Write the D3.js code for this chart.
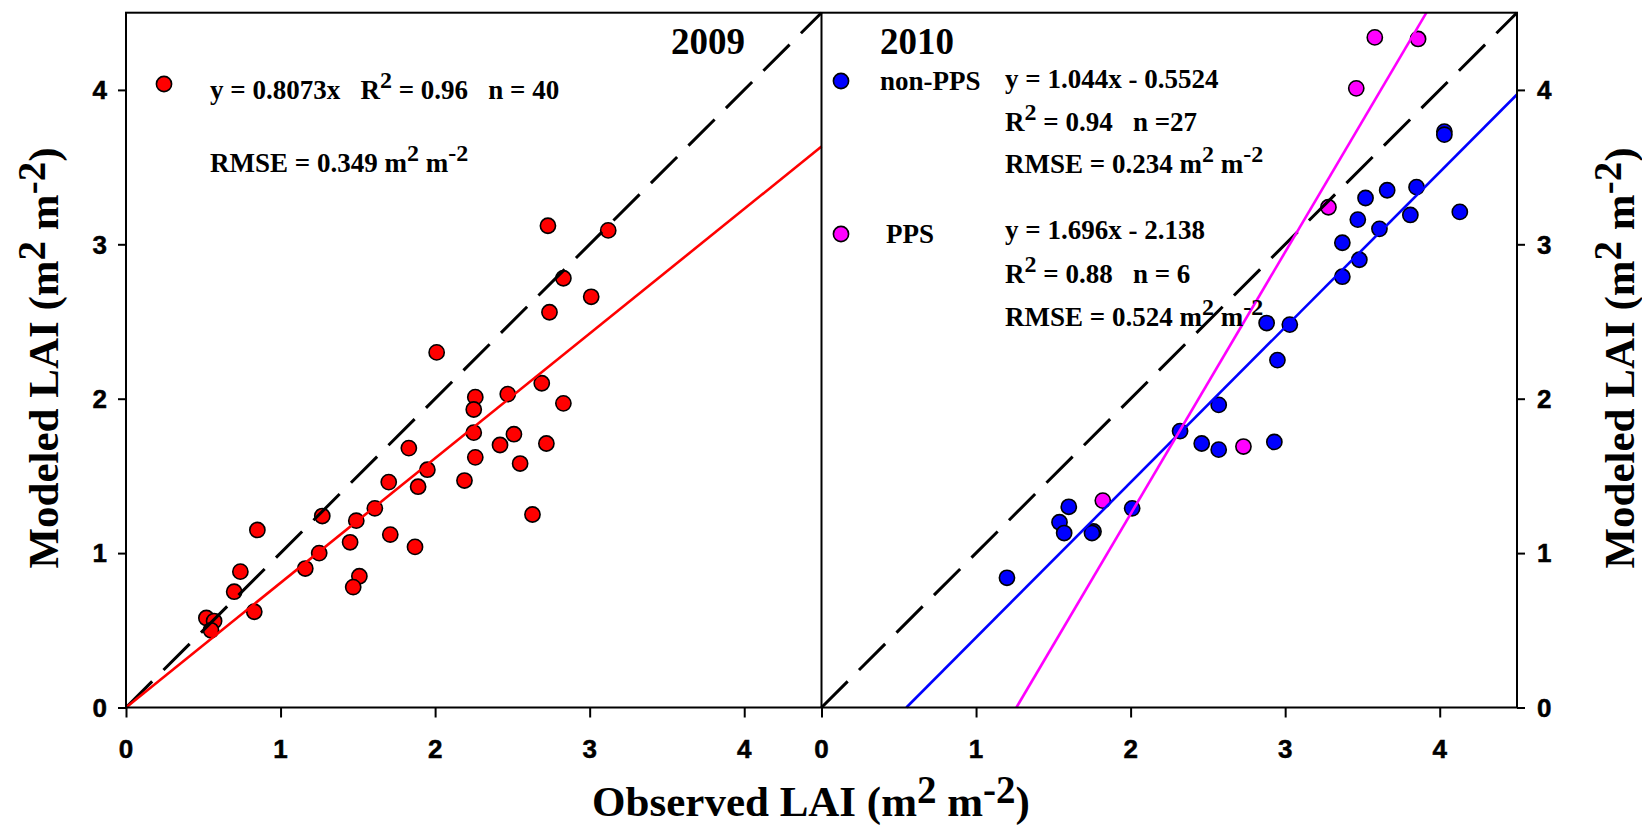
<!DOCTYPE html>
<html>
<head>
<meta charset="utf-8">
<script src="https://cdn.jsdelivr.net/npm/d3@7"></script>
<style>
  html, body { margin: 0; padding: 0; background: #fff; }
  svg { display: block; }
  text { white-space: pre; }
  .ticklab { font-family: "Liberation Sans", Arial, sans-serif; font-weight: 700; font-size: 26px; fill: #000; stroke: #000; stroke-width: 0.5px; }
</style>
</head>
<body>
<svg id="chart" width="1642" height="827"></svg>
<script>
// ---------------- data ----------------
const tickValues = [0, 1, 2, 3, 4];
const tickLabels = ["0", "1", "2", "3", "4"];

// 2009 (observed, modeled)
const obs2009 = [2.73, 3.12, 2.83, 3.01, 2.74, 2.01, 2.69, 2.26, 2.47, 2.83,
                 2.25, 2.25, 2.51, 2.42, 2.72, 1.83, 2.26, 1.95, 2.55, 1.70,
                 1.89, 2.19, 1.61, 1.27, 1.49, 0.85, 1.45, 1.71, 1.87, 1.25,
                 1.16, 0.74, 1.51, 0.70, 1.47, 0.83, 0.52, 0.57, 0.55, 2.63];
const mod2009 = [3.12, 3.09, 2.78, 2.66, 2.56, 2.30, 2.10, 2.01, 2.03, 1.97,
                 1.93, 1.78, 1.77, 1.70, 1.71, 1.68, 1.62, 1.54, 1.58, 1.46,
                 1.43, 1.47, 1.29, 1.24, 1.21, 1.15, 1.07, 1.12, 1.04, 1.00,
                 0.90, 0.88, 0.85, 0.75, 0.78, 0.62, 0.58, 0.56, 0.50, 1.25];

// 2010 non-PPS
const obsNonPPS = [4.03, 4.03, 3.66, 3.85, 3.52, 3.47, 3.81, 4.13, 3.61, 3.37,
                   3.48, 3.37, 2.88, 3.03, 2.95, 2.57, 2.32, 2.46, 2.57, 2.93,
                   2.01, 1.60, 1.54, 1.57, 1.76, 1.75, 1.20];
const modNonPPS = [3.73, 3.71, 3.35, 3.37, 3.30, 3.16, 3.19, 3.21, 3.10, 3.01,
                   2.90, 2.79, 2.49, 2.48, 2.25, 1.96, 1.79, 1.71, 1.67, 1.72,
                   1.29, 1.30, 1.20, 1.13, 1.14, 1.13, 0.84];

// 2010 PPS
const obsPPS = [3.58, 3.86, 3.46, 3.28, 1.82, 2.73];
const modPPS = [4.34, 4.33, 4.01, 3.24, 1.34, 1.69];

// fitted lines (end points as drawn)
const fit2009X = [0, 4.5],      fit2009Y = [0, 3.633];
const fitNonPPSX = [0.549, 4.5], fitNonPPSY = [0, 3.97];
const fitPPSX = [1.261, 3.914],  fitPPSY = [0, 4.5];
const oneToOne = [0, 4.5];

// ---------------- layout ----------------
const svg = d3.select("#chart");
const SERIF = "'Liberation Serif','Times New Roman',serif";

const yTop = 12.7, yBot = 707.5;
const leftX0 = 126, leftX1 = 821.5, rightX0 = 821.5, rightX1 = 1517;

const y = d3.scaleLinear().domain([0, 4.5]).range([yBot, yTop]);
const xL = d3.scaleLinear().domain([0, 4.5]).range([leftX0, leftX1]);
const xR = d3.scaleLinear().domain([0, 4.5]).range([rightX0, rightX1]);

// rich text helper: parts = [[text, isSup], ...]
function rich(g, x, yy, parts, size, supSize, raise, opts = {}) {
  const t = g.append("text")
    .attr("x", x).attr("y", yy)
    .style("font-family", SERIF).style("font-weight", "bold")
    .style("font-size", size + "px").attr("fill", "#000")
    .attr("xml:space", "preserve");
  if (opts.anchor) t.attr("text-anchor", opts.anchor);
  if (opts.transform) t.attr("transform", opts.transform);
  let up = false;
  parts.forEach(([s, sup]) => {
    const ts = t.append("tspan").text(s);
    if (sup) ts.style("font-size", supSize + "px");
    if (sup && !up) { ts.attr("dy", -raise); up = true; }
    else if (!sup && up) { ts.attr("dy", raise); up = false; }
  });
  return t;
}

// ---------------- marks ----------------
function panel(x, obsArr, modArr, color) {
  const g = svg.append("g");
  g.selectAll("circle").data(obsArr).join("circle")
    .attr("cx", (d) => x(d))
    .attr("cy", (d, i) => y(modArr[i]))
    .attr("r", 7.6)
    .attr("fill", color).attr("stroke", "#000").attr("stroke-width", 1.6);
}

function fitLine(x, xs, ys, color, dashed) {
  const line = d3.line().x((d) => x(d[0])).y((d) => y(d[1]));
  const p = svg.append("path")
    .datum(xs.map((v, i) => [v, ys[i]]))
    .attr("d", line).attr("fill", "none")
    .attr("stroke", color).attr("stroke-width", dashed ? 3 : 2.6);
  if (dashed) p.attr("stroke-dasharray", "37,16");
}

// points
panel(xL, obs2009, mod2009, "#ff0000");
panel(xR, obsNonPPS, modNonPPS, "#0000ff");
panel(xR, obsPPS, modPPS, "#ff00ff");

// lines
fitLine(xL, oneToOne, oneToOne, "#000", true);
fitLine(xL, fit2009X, fit2009Y, "#ff0000", false);
fitLine(xR, oneToOne, oneToOne, "#000", true);
fitLine(xR, fitNonPPSX, fitNonPPSY, "#0000ff", false);
fitLine(xR, fitPPSX, fitPPSY, "#ff00ff", false);

// ---------------- axes (tick marks from d3.axis, labels drawn explicitly) ----------------
const lineStyle = (g) => {
  g.selectAll(".domain").remove();
  g.selectAll(".tick text").remove();
  g.selectAll(".tick line").attr("stroke", "#000").attr("stroke-width", 2);
};

svg.append("g").attr("transform", `translate(0,${yBot})`)
  .call(d3.axisBottom(xL).tickValues(tickValues).tickSize(10)).call(lineStyle);
svg.append("g").attr("transform", `translate(0,${yBot})`)
  .call(d3.axisBottom(xR).tickValues(tickValues).tickSize(10)).call(lineStyle);
svg.append("g").attr("transform", `translate(${leftX0},0)`)
  .call(d3.axisLeft(y).tickValues(tickValues).tickSize(8)).call(lineStyle);
svg.append("g").attr("transform", `translate(${rightX1},0)`)
  .call(d3.axisRight(y).tickValues(tickValues).tickSize(8)).call(lineStyle);

const labels = svg.append("g");

[xL, xR].forEach((xs) => {
  labels.append("g").selectAll("text").data(tickValues).join("text")
    .attr("class", "ticklab")
    .attr("x", (d) => xs(d)).attr("y", 758)
    .attr("text-anchor", "middle")
    .text((d, i) => tickLabels[i]);
});
labels.append("g").selectAll("text").data(tickValues).join("text")
  .attr("class", "ticklab")
  .attr("x", leftX0 - 8 - 11).attr("y", (d) => y(d) + 9.3)
  .attr("text-anchor", "end")
  .text((d, i) => tickLabels[i]);
labels.append("g").selectAll("text").data(tickValues).join("text")
  .attr("class", "ticklab")
  .attr("x", rightX1 + 8 + 12).attr("y", (d) => y(d) + 9.3)
  .attr("text-anchor", "start")
  .text((d, i) => tickLabels[i]);

// frame
const frame = svg.append("g").attr("stroke", "#000").attr("stroke-width", 2).attr("fill", "none");
frame.append("rect").attr("x", leftX0).attr("y", yTop).attr("width", rightX1 - leftX0).attr("height", yBot - yTop);
frame.append("line").attr("x1", rightX0).attr("x2", rightX0).attr("y1", yTop).attr("y2", yBot);

// ---------------- annotations ----------------
const ann = svg.append("g");
const AS = 27, ASS = 24, AR = 11;

rich(ann, 671, 54, [["2009", false]], 37, 37, 0);
rich(ann, 880, 54, [["2010", false]], 37, 37, 0);

ann.append("circle").attr("cx", 164).attr("cy", 84).attr("r", 7.6)
  .attr("fill", "#ff0000").attr("stroke", "#000").attr("stroke-width", 1.6);
rich(ann, 210, 99, [["y = 0.8073x   R", false], ["2", true], [" = 0.96   n = 40", false]], AS, ASS, AR);
rich(ann, 210, 172, [["RMSE = 0.349 m", false], ["2", true], [" m", false], ["-2", true]], AS, ASS, AR);

ann.append("circle").attr("cx", 841).attr("cy", 81).attr("r", 7.6)
  .attr("fill", "#0000ff").attr("stroke", "#000").attr("stroke-width", 1.6);
rich(ann, 880, 90, [["non-PPS", false]], AS, ASS, AR);
rich(ann, 1005, 88, [["y = 1.044x - 0.5524", false]], AS, ASS, AR);
rich(ann, 1005, 131, [["R", false], ["2", true], [" = 0.94   n =27", false]], AS, ASS, AR);
rich(ann, 1005, 173, [["RMSE = 0.234 m", false], ["2", true], [" m", false], ["-2", true]], AS, ASS, AR);

ann.append("circle").attr("cx", 841).attr("cy", 234).attr("r", 7.6)
  .attr("fill", "#ff00ff").attr("stroke", "#000").attr("stroke-width", 1.6);
rich(ann, 886, 243, [["PPS", false]], AS, ASS, AR);
rich(ann, 1005, 239, [["y = 1.696x - 2.138", false]], AS, ASS, AR);
rich(ann, 1005, 283, [["R", false], ["2", true], [" = 0.88   n = 6", false]], AS, ASS, AR);
rich(ann, 1005, 326, [["RMSE = 0.524 m", false], ["2", true], [" m", false], ["-2", true]], AS, ASS, AR);

// ---------------- axis titles ----------------
const titleParts = (base) => [[base + " (m", false], ["2", true], [" m", false], ["-2", true], [")", false]];
rich(svg, 811, 816, titleParts("Observed LAI"), 43, 39, 13, { anchor: "middle" });
rich(svg, 0, 0, titleParts("Modeled LAI"), 43, 39, 13,
  { anchor: "middle", transform: "translate(58,358) rotate(-90)" });
rich(svg, 0, 0, titleParts("Modeled LAI"), 43, 39, 13,
  { anchor: "middle", transform: "translate(1634,358) rotate(-90)" });
</script>
</body>
</html>
